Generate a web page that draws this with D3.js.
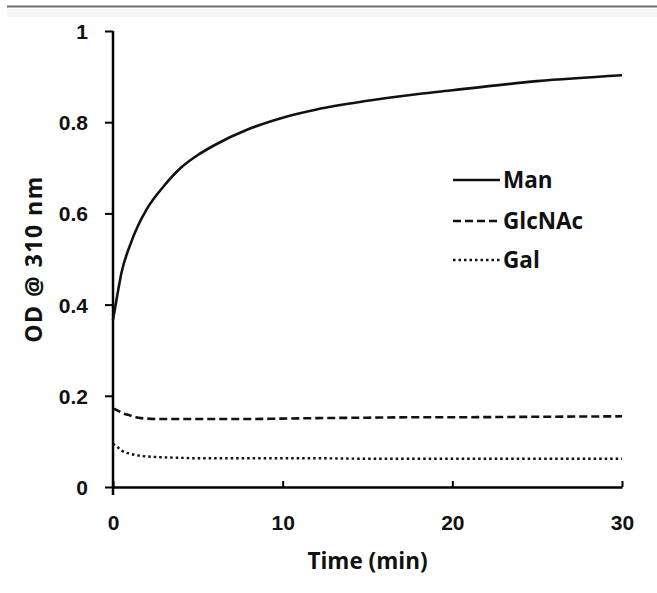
<!DOCTYPE html>
<html>
<head>
<meta charset="utf-8">
<script src="https://cdn.jsdelivr.net/npm/d3@7"></script>
<style>
  body { margin: 0; background: #fff; }
  svg { display: block; font-family: "Open Sans", "Noto Sans", sans-serif; }
</style>
</head>
<body>
<svg width="657" height="593"></svg>
<script>
// time points (min)
let times = [0, 0.25, 0.5, 1, 1.5, 2, 3, 4, 5, 6, 8, 10, 12, 15, 18, 20, 25, 30];
let man    = [0.366, 0.42, 0.47, 0.53, 0.575, 0.61, 0.66, 0.70, 0.728, 0.75, 0.785, 0.81, 0.828, 0.847, 0.862, 0.87, 0.89, 0.903];
let glcnac = [0.172, 0.168, 0.163, 0.157, 0.152, 0.150, 0.149, 0.149, 0.149, 0.149, 0.149, 0.150, 0.151, 0.152, 0.153, 0.153, 0.154, 0.155];
let gal    = [0.095, 0.088, 0.080, 0.073, 0.069, 0.067, 0.065, 0.064, 0.063, 0.063, 0.063, 0.063, 0.063, 0.062, 0.062, 0.062, 0.062, 0.062];
let seriesNames = ["Man", "GlcNAc", "Gal"];
let xTicks = [0, 10, 20, 30];
let yTicks = [0, 0.2, 0.4, 0.6, 0.8, 1];

let svg = d3.select("svg");
let mLeft = 113, mRight = 622, mTop = 31, mBottom = 487;

// header rule
svg.append("line").attr("x1", 7).attr("x2", 657).attr("y1", 6.5).attr("y2", 6.5)
    .attr("stroke", "#6e6e6e").attr("stroke-width", 2);
svg.append("rect").attr("x", 7).attr("y", 9).attr("width", 650).attr("height", 8)
    .attr("fill", "#f6f6f6");

let x = d3.scaleLinear().domain([0, 30]).range([mLeft, mRight]);
let y = d3.scaleLinear().domain([0, 1]).range([mBottom, mTop]);

// y axis
let yAxis = svg.append("g").attr("transform", "translate(" + mLeft + ",0)")
    .call(d3.axisLeft(y).tickValues(yTicks).tickSize(8).tickFormat(d3.format("")));
yAxis.select(".domain").remove();
yAxis.append("line").attr("x1", 0).attr("x2", 0).attr("y1", mTop).attr("y2", mBottom + 8)
    .attr("stroke", "#000").attr("stroke-width", 2.5);
yAxis.selectAll(".tick line").attr("stroke-width", 2);
yAxis.selectAll(".tick text").attr("x", -25).attr("dy", "0.36em")
    .attr("font-size", 21).attr("font-weight", "bold").attr("fill", "#111");

// x axis
let xAxis = svg.append("g").attr("transform", "translate(0," + mBottom + ")")
    .call(d3.axisBottom(x).tickValues(xTicks).tickSizeInner(-6).tickSizeOuter(0));
xAxis.select(".domain").attr("stroke-width", 2.5);
xAxis.selectAll(".tick line").attr("stroke-width", 2);
xAxis.selectAll(".tick text").attr("y", 43).attr("dy", null)
    .attr("font-size", 21).attr("font-weight", "bold").attr("fill", "#111");

// titles
svg.append("text").attr("x", (mLeft + mRight) / 2).attr("y", 569)
    .attr("text-anchor", "middle").attr("font-size", 22.5).attr("font-weight", "bold")
    .attr("fill", "#111").text("Time (min)");
svg.append("text").attr("transform", "translate(42," + (mTop + mBottom) / 2 + ") rotate(-90)")
    .attr("text-anchor", "middle").attr("font-size", 23).attr("font-weight", "bold")
    .attr("letter-spacing", 1.5).attr("fill", "#111").text("OD @ 310 nm");

// lines
let styles = [
    { dash: null, w: 2.6 },
    { dash: "8,4", w: 2.6 },
    { dash: "2.5,3", w: 2.4 }
];
let allSeries = [man, glcnac, gal];
let line = d3.line().x((d, i) => x(times[i])).y(d => y(d)).curve(d3.curveMonotoneX);

allSeries.forEach((s, k) => {
    svg.append("path").datum(s).attr("d", line)
        .attr("fill", "none").attr("stroke", "#111")
        .attr("stroke-width", styles[k].w)
        .attr("stroke-dasharray", styles[k].dash);
});

// legend
let legendY = [180, 221, 260];
seriesNames.forEach((name, k) => {
    svg.append("line").attr("x1", 453).attr("x2", 500)
        .attr("y1", legendY[k]).attr("y2", legendY[k])
        .attr("stroke", "#111").attr("stroke-width", styles[k].w)
        .attr("stroke-dasharray", styles[k].dash);
    svg.append("text").attr("x", 503).attr("y", legendY[k]).attr("dy", "0.36em")
        .attr("font-size", 22.5).attr("font-weight", "bold").attr("fill", "#111")
        .text(name);
});
</script>
</body>
</html>
